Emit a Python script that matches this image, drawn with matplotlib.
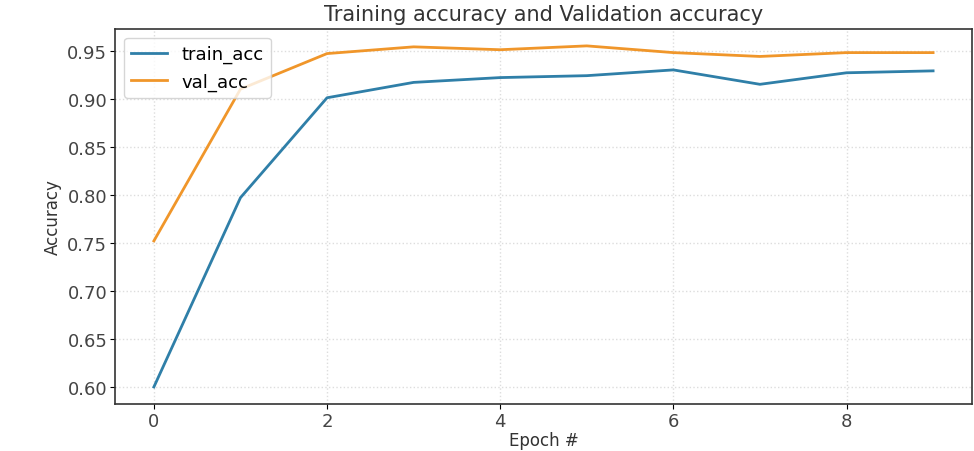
import matplotlib.pyplot as plt
import numpy as np

# accuracy history
epochs = np.arange(10)
train_acc = [0.600, 0.797, 0.901, 0.917, 0.922, 0.924, 0.930, 0.915, 0.927, 0.929]
val_acc = [0.752, 0.910, 0.947, 0.954, 0.951, 0.955, 0.948, 0.944, 0.948, 0.948]

fig = plt.figure(figsize=(9.74, 4.52), dpi=100)
ax = fig.add_axes([0.118, 0.104, 0.880, 0.830])

ax.plot(epochs, train_acc, color='#2f7fa8', linewidth=2, label='train_acc')
ax.plot(epochs, val_acc, color='#f0962a', linewidth=2, label='val_acc')

ax.set_title('Training accuracy and Validation accuracy', fontsize=15, color='#333333')
ax.set_xlabel('Epoch #', fontsize=12, color='#333333', labelpad=1)
ax.set_ylabel('Accuracy', fontsize=12, color='#333333',
              family=['Liberation Sans Narrow', 'DejaVu Sans'])
ax.tick_params(labelsize=13, labelcolor='#444444', pad=2)
ax.set_xticks([0, 2, 4, 6, 8])
ax.grid(True, color='#dddddd', linestyle=':', linewidth=1)
for spine in ax.spines.values():
    spine.set_edgecolor('#333333')
    spine.set_linewidth(1.2)

ax.legend(loc='upper left', fontsize=13, framealpha=0.8)

plt.savefig('out.png')
